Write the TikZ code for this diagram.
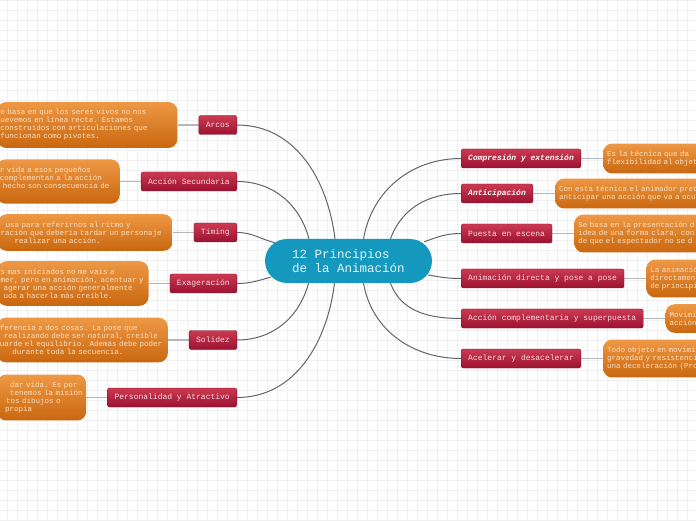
\documentclass[tikz,border=0pt]{standalone}
\usepackage{fontspec}
\newfontfamily\mapmono{Liberation Mono}
\usetikzlibrary{positioning,backgrounds}
\definecolor{mmblue}{HTML}{1598BE}
\definecolor{mmbluetext}{HTML}{E4F6FB}
\definecolor{mmredtop}{HTML}{CC3A52}
\definecolor{mmredbot}{HTML}{9B1230}
\definecolor{mmredline}{HTML}{8A0F2A}
\definecolor{mmredtext}{HTML}{F6DCE2}
\definecolor{mmorangetop}{HTML}{EE9845}
\definecolor{mmorangebot}{HTML}{C9670F}
\definecolor{mmorangetext}{HTML}{FBE0C2}
\definecolor{mmline}{HTML}{5F656C}
\definecolor{mmstub}{HTML}{B4B8BC}
\definecolor{mmgrid}{HTML}{F0F0F0}

\begin{document}
\begin{tikzpicture}[x=1pt,y=1pt,
  central/.style={fill=mmblue,text=mmbluetext,rounded corners=22pt,minimum width=167pt,minimum height=44pt,align=left,font=\mapmono\fontsize{12.5}{14}\selectfont},
  topic/.style={top color=mmredtop,bottom color=mmredbot,draw=mmredline,line width=0.4pt,rounded corners=2pt,text=mmredtext,minimum height=19pt,inner xsep=7pt,inner ysep=0pt,font=\mapmono\fontsize{8}{9}\selectfont},
  keytopic/.style={topic,text=white,font=\mapmono\bfseries\itshape\fontsize{8}{9}\selectfont},
  note/.style={top color=mmorangetop,bottom color=mmorangebot,rounded corners=9pt,text=mmorangetext,align=left,inner ysep=7.5pt,font=\mapmono\fontsize{7.5}{8}\selectfont},
  lnote/.style={note,inner xsep=3pt,text width=#1},
  rnote/.style={note,inner xsep=4pt,text width=150pt},
  branch/.style={draw=mmline,line width=1pt},
  stub/.style={draw=mmstub,line width=1.2pt}]
\useasboundingbox (0,0) rectangle (696,520);
\begin{scope}[on background layer]
  \fill[white] (0,0) rectangle (696,520);
  \draw[mmgrid,line width=0.6pt,step=10pt,xshift=7pt] (-10,0) grid (689,520);
\end{scope}
\clip (0,0) rectangle (696,520);

% centre
\node[central] (anim) at (348.5,259) {12 Principios\\de la Animación};

% left topics
\node[topic,anchor=east] (arcos) at (237,395) {Arcos};
\node[topic,anchor=east] (secundaria) at (237,338.5) {Acción Secundaria};
\node[topic,anchor=east] (timing) at (237,287.5) {Timing};
\node[topic,anchor=east] (exageracion) at (237,236.5) {Exageración};
\node[topic,anchor=east] (solidez) at (237,180) {Solidez};
\node[topic,anchor=east] (personalidad) at (237,122.5) {Personalidad y Atractivo};

% right topics
\node[keytopic,anchor=west] (compresion) at (461,361.5) {Compresión y extensión};
\node[keytopic,anchor=west] (anticipacion) at (461,326.5) {Anticipación};
\node[topic,anchor=west] (puesta) at (461,286.5) {Puesta en escena};
\node[topic,anchor=west] (directa) at (461,241.5) {Animación directa y pose a pose};
\node[topic,anchor=west] (complementaria) at (461,201.5) {Acción complementaria y superpuesta};
\node[topic,anchor=west] (acelerar) at (461,161.5) {Acelerar y desacelerar};

% notes, cut by the page edge
\node[lnote=174pt,left=21pt of arcos] (arcosnote) {e basa en que los seres vivos no nos\\uevemos en línea recta. Estamos\\construidos con articulaciones que\\funcionan como pivotes.};
\node[lnote=117pt,left=21pt of secundaria] (secundarianote) {r vida a esos pequeños\\complementan a la acción\\\hspace*{3pt}hecho son consecuencia de\\\mbox{}};
\node[lnote=169pt,left=21pt of timing] (timingnote) {\hspace*{5pt}usa para referirnos al ritmo y\\ración que debería tardar un personaje\\\hspace*{14pt}realizar una acción.};
\node[lnote=145pt,left=21pt of exageracion] (exageracionnote) {s mas iniciados no me vais a\\mer, pero en animación, acentuar y\\\hspace*{3pt}agerar una acción generalmente\\\hspace*{3pt}uda a hacerla más creíble.};
\node[lnote=165pt,left=21pt of solidez] (solideznote) {ferencia a dos cosas. La pose que\\\hspace*{4pt}realizando debe ser natural, creíble\\uarde el equilibrio. Además debe poder\\\hspace*{12.5pt}durante toda la secuencia.};
\node[lnote=83pt,left=21pt of personalidad] (personalidadnote) {\hspace*{10pt}dar vida. Es por\\\hspace*{10pt}tenemos la misión\\\hspace*{6pt}tos dibujos o\\\hspace*{5pt}propia};

\node[rnote,right=22pt of compresion] (compresionnote) {Es la técnica que da\\flexibilidad al objeto};
\node[rnote,right=22pt of anticipacion] (anticipacionnote) {Con esta técnica el animador pret\\anticipar una acción que va a ocu};
\node[rnote,right=22pt of puesta] (puestanote) {Se basa en la presentación d\\idea de una forma clara, con\\de que el espectador no se d};
\node[rnote,right=22pt of directa] (directanote) {La animació\\directament\\de principi};
\node[rnote,right=22pt of complementaria] (complementarianote) {Movimie\\acción};
\node[rnote,right=22pt of acelerar] (acelerarnote) {Todo objeto en movimie\\gravedad y resistenci\\una deceleración (Pro};

% connectors behind the nodes
\begin{scope}[on background layer]
  \draw[branch] ([xshift=-13.5pt]anim.north) to[out=97,in=0] (arcos.east);
  \draw[branch] ([xshift=-39.5pt]anim.north) to[out=105,in=0] (secundaria.east);
  \draw[branch] ([xshift=10pt,yshift=-4pt]anim.north west) to[out=165,in=0] (timing.east);
  \draw[branch] ([xshift=6pt,yshift=6pt]anim.south west) to[out=195,in=0] (exageracion.east);
  \draw[branch] ([xshift=-40pt]anim.south) to[out=-105,in=0] (solidez.east);
  \draw[branch] ([xshift=-14pt]anim.south) to[out=-97,in=0] (personalidad.east);
  \draw[branch] ([xshift=15pt]anim.north) to[out=80,in=180] (compresion.west);
  \draw[branch] ([xshift=42pt]anim.north) to[out=70,in=180] (anticipacion.west);
  \draw[branch] ([xshift=-8pt,yshift=-3pt]anim.north east) to[out=20,in=180] (puesta.west);
  \draw[branch] ([xshift=-4pt,yshift=-14pt]anim.east) to[out=-10,in=180] (directa.west);
  \draw[branch] ([xshift=42pt]anim.south) to[out=-70,in=180] (complementaria.west);
  \draw[branch] ([xshift=15pt]anim.south) to[out=-80,in=180] (acelerar.west);
  \foreach \t in {arcos,secundaria,timing,exageracion,solidez,personalidad,compresion,anticipacion,puesta,directa,complementaria,acelerar}
    \draw[stub] (\t) -- (\t note);
\end{scope}
\end{tikzpicture}
\end{document}
